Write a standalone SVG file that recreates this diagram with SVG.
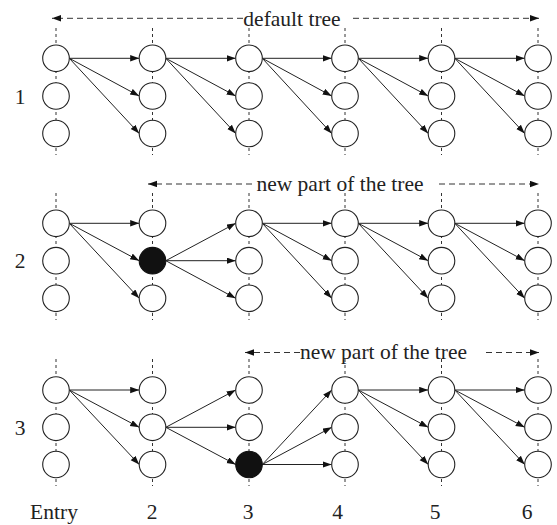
<svg xmlns="http://www.w3.org/2000/svg" width="557" height="525" viewBox="0 0 557 525">
<style>
.n{fill:#fff;stroke:#222;stroke-width:1.1}
.b{fill:#111;stroke:#111;stroke-width:1.1}
.e{stroke:#222;stroke-width:1;fill:none;marker-end:url(#ah)}
.v{stroke:#333;stroke-width:1;stroke-dasharray:3 3;fill:none}
.d{stroke:#333;stroke-width:1;stroke-dasharray:6 4;fill:none;marker-end:url(#ah)}
text{font-family:"Liberation Serif","Times New Roman",serif;font-size:21.5px;fill:#222}
</style>
<defs>
<marker id="ah" markerUnits="userSpaceOnUse" markerWidth="10" markerHeight="8" refX="9" refY="3.2" orient="auto">
<path d="M0,0 L9,3.2 L0,6.4 z" fill="#111"/>
</marker>
</defs>
<rect width="557" height="525" fill="#fff"/>
<g id="guides">
<line class="v" x1="56" y1="28" x2="56" y2="155"/><line class="v" x1="152.5" y1="28" x2="152.5" y2="155"/><line class="v" x1="249" y1="28" x2="249" y2="155"/><line class="v" x1="345" y1="28" x2="345" y2="155"/><line class="v" x1="441.5" y1="28" x2="441.5" y2="155"/><line class="v" x1="538" y1="28" x2="538" y2="155"/>
<line class="v" x1="56" y1="193" x2="56" y2="320"/><line class="v" x1="152.5" y1="193" x2="152.5" y2="320"/><line class="v" x1="249" y1="193" x2="249" y2="320"/><line class="v" x1="345" y1="193" x2="345" y2="320"/><line class="v" x1="441.5" y1="193" x2="441.5" y2="320"/><line class="v" x1="538" y1="193" x2="538" y2="320"/>
<line class="v" x1="56" y1="359" x2="56" y2="486"/><line class="v" x1="152.5" y1="359" x2="152.5" y2="486"/><line class="v" x1="249" y1="359" x2="249" y2="486"/><line class="v" x1="345" y1="359" x2="345" y2="486"/><line class="v" x1="441.5" y1="359" x2="441.5" y2="486"/><line class="v" x1="538" y1="359" x2="538" y2="486"/>
</g>
<g id="spans">
<line class="d" x1="243" y1="18.3" x2="52" y2="18.3"/><line class="d" x1="353" y1="18.3" x2="539" y2="18.3"/>
<text x="292" y="25.5" text-anchor="middle">default tree</text>
<line class="d" x1="252" y1="184" x2="148" y2="184"/><line class="d" x1="439" y1="184" x2="539" y2="184"/>
<text x="340" y="190.5" text-anchor="middle">new part of the tree</text>
<line class="d" x1="300" y1="352.5" x2="245" y2="352.5"/><line class="d" x1="486" y1="352.5" x2="539" y2="352.5"/>
<text x="383.5" y="358.5" text-anchor="middle">new part of the tree</text>
</g>
<g id="connectors">
<line class="e" x1="69.3" y1="58.3" x2="139.2" y2="58.3"/><line class="e" x1="69.3" y1="58.3" x2="139.2" y2="96"/><line class="e" x1="69.3" y1="58.3" x2="139.2" y2="133.5"/>
<line class="e" x1="165.8" y1="58.3" x2="235.7" y2="58.3"/><line class="e" x1="165.8" y1="58.3" x2="235.7" y2="96"/><line class="e" x1="165.8" y1="58.3" x2="235.7" y2="133.5"/>
<line class="e" x1="262.3" y1="58.3" x2="331.7" y2="58.3"/><line class="e" x1="262.3" y1="58.3" x2="331.7" y2="96"/><line class="e" x1="262.3" y1="58.3" x2="331.7" y2="133.5"/>
<line class="e" x1="358.3" y1="58.3" x2="428.2" y2="58.3"/><line class="e" x1="358.3" y1="58.3" x2="428.2" y2="96"/><line class="e" x1="358.3" y1="58.3" x2="428.2" y2="133.5"/>
<line class="e" x1="454.8" y1="58.3" x2="524.7" y2="58.3"/><line class="e" x1="454.8" y1="58.3" x2="524.7" y2="96"/><line class="e" x1="454.8" y1="58.3" x2="524.7" y2="133.5"/>

<line class="e" x1="69.3" y1="223.3" x2="139.2" y2="223.3"/><line class="e" x1="69.3" y1="223.3" x2="139.2" y2="260.7"/><line class="e" x1="69.3" y1="223.3" x2="139.2" y2="298.3"/>
<line class="e" x1="165.8" y1="260.7" x2="235.7" y2="223.3"/><line class="e" x1="165.8" y1="260.7" x2="235.7" y2="260.7"/><line class="e" x1="165.8" y1="260.7" x2="235.7" y2="298.3"/>
<line class="e" x1="262.3" y1="223.3" x2="331.7" y2="223.3"/><line class="e" x1="262.3" y1="223.3" x2="331.7" y2="260.7"/><line class="e" x1="262.3" y1="223.3" x2="331.7" y2="298.3"/>
<line class="e" x1="358.3" y1="223.3" x2="428.2" y2="223.3"/><line class="e" x1="358.3" y1="223.3" x2="428.2" y2="260.7"/><line class="e" x1="358.3" y1="223.3" x2="428.2" y2="298.3"/>
<line class="e" x1="454.8" y1="223.3" x2="524.7" y2="223.3"/><line class="e" x1="454.8" y1="223.3" x2="524.7" y2="260.7"/><line class="e" x1="454.8" y1="223.3" x2="524.7" y2="298.3"/>

<line class="e" x1="69.3" y1="390" x2="139.2" y2="390"/><line class="e" x1="69.3" y1="390" x2="139.2" y2="427.3"/><line class="e" x1="69.3" y1="390" x2="139.2" y2="464.5"/>
<line class="e" x1="165.8" y1="427.3" x2="235.7" y2="390"/><line class="e" x1="165.8" y1="427.3" x2="235.7" y2="427.3"/><line class="e" x1="165.8" y1="427.3" x2="235.7" y2="464.5"/>
<line class="e" x1="262.3" y1="464.5" x2="331.7" y2="390"/><line class="e" x1="262.3" y1="464.5" x2="331.7" y2="427.3"/><line class="e" x1="262.3" y1="464.5" x2="331.7" y2="464.5"/>
<line class="e" x1="358.3" y1="390" x2="428.2" y2="390"/><line class="e" x1="358.3" y1="390" x2="428.2" y2="427.3"/><line class="e" x1="358.3" y1="390" x2="428.2" y2="464.5"/>
<line class="e" x1="454.8" y1="390" x2="524.7" y2="390"/><line class="e" x1="454.8" y1="390" x2="524.7" y2="427.3"/><line class="e" x1="454.8" y1="390" x2="524.7" y2="464.5"/>
</g>
<g id="p1-c1-r1"><circle class="n" cx="56" cy="58.3" r="13.3"/></g>
<g id="p1-c1-r2"><circle class="n" cx="56" cy="96" r="13.3"/></g>
<g id="p1-c1-r3"><circle class="n" cx="56" cy="133.5" r="13.3"/></g>
<g id="p1-c2-r1"><circle class="n" cx="152.5" cy="58.3" r="13.3"/></g>
<g id="p1-c2-r2"><circle class="n" cx="152.5" cy="96" r="13.3"/></g>
<g id="p1-c2-r3"><circle class="n" cx="152.5" cy="133.5" r="13.3"/></g>
<g id="p1-c3-r1"><circle class="n" cx="249" cy="58.3" r="13.3"/></g>
<g id="p1-c3-r2"><circle class="n" cx="249" cy="96" r="13.3"/></g>
<g id="p1-c3-r3"><circle class="n" cx="249" cy="133.5" r="13.3"/></g>
<g id="p1-c4-r1"><circle class="n" cx="345" cy="58.3" r="13.3"/></g>
<g id="p1-c4-r2"><circle class="n" cx="345" cy="96" r="13.3"/></g>
<g id="p1-c4-r3"><circle class="n" cx="345" cy="133.5" r="13.3"/></g>
<g id="p1-c5-r1"><circle class="n" cx="441.5" cy="58.3" r="13.3"/></g>
<g id="p1-c5-r2"><circle class="n" cx="441.5" cy="96" r="13.3"/></g>
<g id="p1-c5-r3"><circle class="n" cx="441.5" cy="133.5" r="13.3"/></g>
<g id="p1-c6-r1"><circle class="n" cx="538" cy="58.3" r="13.3"/></g>
<g id="p1-c6-r2"><circle class="n" cx="538" cy="96" r="13.3"/></g>
<g id="p1-c6-r3"><circle class="n" cx="538" cy="133.5" r="13.3"/></g>
<g id="p2-c1-r1"><circle class="n" cx="56" cy="223.3" r="13.3"/></g>
<g id="p2-c1-r2"><circle class="n" cx="56" cy="260.7" r="13.3"/></g>
<g id="p2-c1-r3"><circle class="n" cx="56" cy="298.3" r="13.3"/></g>
<g id="p2-c2-r1"><circle class="n" cx="152.5" cy="223.3" r="13.3"/></g>
<g id="p2-c2-r2"><circle class="b" cx="152.5" cy="260.7" r="13.3"/></g>
<g id="p2-c2-r3"><circle class="n" cx="152.5" cy="298.3" r="13.3"/></g>
<g id="p2-c3-r1"><circle class="n" cx="249" cy="223.3" r="13.3"/></g>
<g id="p2-c3-r2"><circle class="n" cx="249" cy="260.7" r="13.3"/></g>
<g id="p2-c3-r3"><circle class="n" cx="249" cy="298.3" r="13.3"/></g>
<g id="p2-c4-r1"><circle class="n" cx="345" cy="223.3" r="13.3"/></g>
<g id="p2-c4-r2"><circle class="n" cx="345" cy="260.7" r="13.3"/></g>
<g id="p2-c4-r3"><circle class="n" cx="345" cy="298.3" r="13.3"/></g>
<g id="p2-c5-r1"><circle class="n" cx="441.5" cy="223.3" r="13.3"/></g>
<g id="p2-c5-r2"><circle class="n" cx="441.5" cy="260.7" r="13.3"/></g>
<g id="p2-c5-r3"><circle class="n" cx="441.5" cy="298.3" r="13.3"/></g>
<g id="p2-c6-r1"><circle class="n" cx="538" cy="223.3" r="13.3"/></g>
<g id="p2-c6-r2"><circle class="n" cx="538" cy="260.7" r="13.3"/></g>
<g id="p2-c6-r3"><circle class="n" cx="538" cy="298.3" r="13.3"/></g>
<g id="p3-c1-r1"><circle class="n" cx="56" cy="390" r="13.3"/></g>
<g id="p3-c1-r2"><circle class="n" cx="56" cy="427.3" r="13.3"/></g>
<g id="p3-c1-r3"><circle class="n" cx="56" cy="464.5" r="13.3"/></g>
<g id="p3-c2-r1"><circle class="n" cx="152.5" cy="390" r="13.3"/></g>
<g id="p3-c2-r2"><circle class="n" cx="152.5" cy="427.3" r="13.3"/></g>
<g id="p3-c2-r3"><circle class="n" cx="152.5" cy="464.5" r="13.3"/></g>
<g id="p3-c3-r1"><circle class="n" cx="249" cy="390" r="13.3"/></g>
<g id="p3-c3-r2"><circle class="n" cx="249" cy="427.3" r="13.3"/></g>
<g id="p3-c3-r3"><circle class="b" cx="249" cy="464.5" r="13.3"/></g>
<g id="p3-c4-r1"><circle class="n" cx="345" cy="390" r="13.3"/></g>
<g id="p3-c4-r2"><circle class="n" cx="345" cy="427.3" r="13.3"/></g>
<g id="p3-c4-r3"><circle class="n" cx="345" cy="464.5" r="13.3"/></g>
<g id="p3-c5-r1"><circle class="n" cx="441.5" cy="390" r="13.3"/></g>
<g id="p3-c5-r2"><circle class="n" cx="441.5" cy="427.3" r="13.3"/></g>
<g id="p3-c5-r3"><circle class="n" cx="441.5" cy="464.5" r="13.3"/></g>
<g id="p3-c6-r1"><circle class="n" cx="538" cy="390" r="13.3"/></g>
<g id="p3-c6-r2"><circle class="n" cx="538" cy="427.3" r="13.3"/></g>
<g id="p3-c6-r3"><circle class="n" cx="538" cy="464.5" r="13.3"/></g>
<g id="labels">
<text x="20" y="103.5" text-anchor="middle">1</text>
<text x="20" y="268" text-anchor="middle">2</text>
<text x="20" y="434.5" text-anchor="middle">3</text>
<text x="54" y="519" text-anchor="middle">Entry</text>
<text x="152" y="519" text-anchor="middle">2</text>
<text x="248" y="519" text-anchor="middle">3</text>
<text x="337.5" y="519" text-anchor="middle">4</text>
<text x="435" y="519" text-anchor="middle">5</text>
<text x="527" y="519" text-anchor="middle">6</text>
</g>
</svg>
